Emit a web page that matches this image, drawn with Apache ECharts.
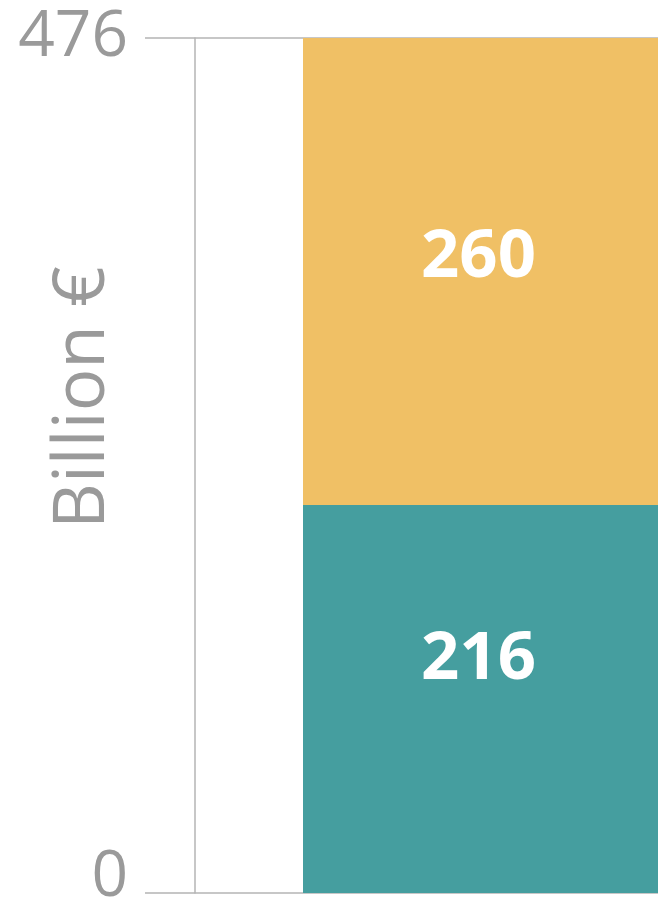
<!DOCTYPE html>
<html>
<head>
<meta charset="utf-8">
<script src="https://cdn.jsdelivr.net/npm/echarts@6/dist/echarts.min.js"></script>
<style>
  html, body { margin: 0; padding: 0; background: #fff; }
  #chart { width: 658px; height: 900px; }
</style>
</head>
<body>
<div id="chart"></div>
<script>
  // values
  const categories = [""];
  const lowerValues = [216];
  const upperValues = [260];
  const yTicks = [0, 476];

  const colors = ["#459e9f", "#f0c065"];
  const chart = echarts.init(document.getElementById("chart"));

  let option = {
    animation: false,
    grid: {
      left: 195,
      right: -300,
      top: 38,
      bottom: 7,
      containLabel: false,
      outerBoundsMode: "none",
    },
    xAxis: {
      type: "category",
      data: categories,
      axisLine: { show: false },
      axisTick: { show: false },
      axisLabel: { show: false },
    },
    yAxis: {
      type: "value",
      min: yTicks[0],
      max: yTicks[1],
      interval: yTicks[1] - yTicks[0],
      name: "Billion €",
      nameLocation: "middle",
      nameRotate: 90,
      nameGap: 76,
      nameMoveOverlap: false,
      nameTextStyle: {
        fontFamily: "Open Sans",
        fontSize: 71,
        color: "#9a9a9a",
        padding: [0, 0, 0, 136],
      },
      axisLine: { show: true, lineStyle: { color: "#b4b4b4", width: 1.5 } },
      axisTick: { show: true, length: 50, lineStyle: { color: "#b4b4b4", width: 1.5 } },
      splitLine: { show: true, lineStyle: { color: "#b4b4b4", width: 1.5 } },
      axisLabel: {
        margin: 67,
        formatter: (v) => (v === yTicks[0] ? "{b|" + v + "}" : "{a|" + v + "}"),
        rich: {
          a: { fontFamily: "Open Sans", fontSize: 64, color: "#9a9a9a", padding: [0, 0, 0, 0] },
          b: { fontFamily: "Open Sans", fontSize: 64, color: "#9a9a9a", padding: [0, 0, 30, 0] },
        },
      },
    },
    series: [
      {
        type: "bar",
        stack: "total",
        data: lowerValues,
        barWidth: 547,
        itemStyle: { color: colors[0] },
        label: {
          show: true,
          position: "inside",
          offset: [-98, -39],
          color: "#fff",
          fontFamily: "Open Sans",
          fontWeight: "bold",
          fontSize: 67,
        },
      },
      {
        type: "bar",
        stack: "total",
        data: upperValues,
        barWidth: 547,
        itemStyle: { color: colors[1] },
        label: {
          show: true,
          position: "inside",
          offset: [-98, -14],
          color: "#fff",
          fontFamily: "Open Sans",
          fontWeight: "bold",
          fontSize: 67,
        },
      },
    ],
  };

  chart.setOption(option);
</script>
</body>
</html>
